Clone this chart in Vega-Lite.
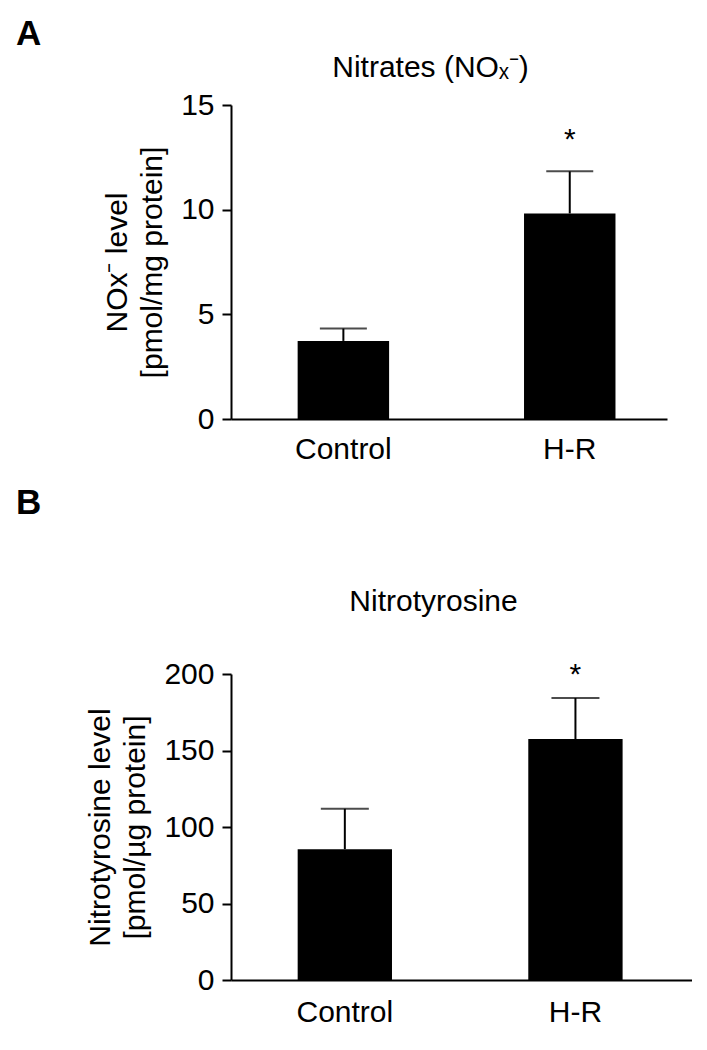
{
  "$schema": "https://vega.github.io/schema/vega-lite/v6.json",
  "padding": {"left": 16, "top": 17, "right": 0, "bottom": 0},
  "background": "white",
  "spacing": 22,
  "config": {
    "font": "Liberation Sans",
    "view": {"stroke": null},
    "axis": {
      "labelFont": "Liberation Sans",
      "titleFont": "Liberation Sans",
      "labelFontSize": 30,
      "titleFontSize": 30,
      "titleFontWeight": "normal",
      "labelColor": "black",
      "titleColor": "black",
      "domainColor": "black",
      "tickColor": "black",
      "domainWidth": 2,
      "tickWidth": 2,
      "grid": false
    },
    "title": {"font": "Liberation Sans", "color": "black"}
  },
  "vconcat": [
    {
      "width": 436,
      "height": 314,
      "title": {"text": "A", "anchor": "start", "frame": "group", "dx": -215, "fontSize": 35, "fontWeight": "bold", "offset": 0},
      "data": {"values": [
        {"group": "Control", "mean": 3.73, "upper": 4.32, "star": ""},
        {"group": "H-R", "mean": 9.82, "upper": 11.83, "star": "*"}
      ]},
      "resolve": {"axis": {"x": "independent"}},
      "layer": [
        {
          "mark": {"type": "bar", "color": "black"},
          "encoding": {
            "x": {"field": "group", "type": "nominal", "sort": null,
                  "scale": {"paddingInner": 0.596, "paddingOuter": 0.261, "align": 0.564},
                  "axis": {"title": null, "labelAngle": 0, "ticks": false, "tickSize": 0, "labelPadding": 15}},
            "y": {"field": "mean", "type": "quantitative", "scale": {"domain": [0, 15], "nice": false},
                  "axis": {"values": [0, 5, 10, 15], "tickSize": 9, "labelPadding": 8,
                           "title": ["NOx⁻ level", "[pmol/mg protein]"], "titleLineHeight": 35, "titlePadding": 13}}
          }
        },
        {
          "mark": {"type": "rule", "color": "black", "strokeWidth": 2},
          "encoding": {
            "x": {"field": "group", "type": "nominal", "sort": null,
                  "axis": {"orient": "top", "domain": false, "ticks": false, "labels": false,
                           "title": "Nitrates (NOₓ⁻)", "titlePadding": 23, "titleX": 199}},
            "y": {"field": "mean", "type": "quantitative", "scale": {"domain": [0, 15], "nice": false}},
            "y2": {"field": "upper"}
          }
        },
        {
          "mark": {"type": "tick", "color": "black", "size": 47, "thickness": 2},
          "encoding": {
            "x": {"field": "group", "type": "nominal", "sort": null, "axis": null},
            "y": {"field": "upper", "type": "quantitative", "scale": {"domain": [0, 15], "nice": false}}
          }
        },
        {
          "mark": {"type": "text", "fontSize": 30, "dy": -22, "baseline": "alphabetic", "color": "black"},
          "encoding": {
            "x": {"field": "group", "type": "nominal", "sort": null, "axis": null},
            "y": {"field": "upper", "type": "quantitative", "scale": {"domain": [0, 15], "nice": false}},
            "text": {"field": "star"}
          }
        }
      ]
    },
    {
      "width": 461,
      "height": 306,
      "title": {"text": "B", "anchor": "start", "frame": "group", "dx": -215, "fontSize": 35, "fontWeight": "bold", "offset": 65},
      "data": {"values": [
        {"group": "Control", "mean": 85.5, "upper": 111.9, "star": ""},
        {"group": "H-R", "mean": 157.5, "upper": 184.3, "star": "*"}
      ]},
      "resolve": {"axis": {"x": "independent"}},
      "layer": [
        {
          "mark": {"type": "bar", "color": "black"},
          "encoding": {
            "x": {"field": "group", "type": "nominal", "sort": null,
                  "scale": {"paddingInner": 0.591, "paddingOuter": 0.295, "align": 0.49},
                  "axis": {"title": null, "labelAngle": 0, "ticks": false, "tickSize": 0, "labelPadding": 17}},
            "y": {"field": "mean", "type": "quantitative", "scale": {"domain": [0, 200], "nice": false},
                  "axis": {"values": [0, 50, 100, 150, 200], "tickSize": 9, "labelPadding": 8,
                           "title": ["Nitrotyrosine level", "[pmol/µg protein]"], "titleLineHeight": 35, "titlePadding": 13}}
          }
        },
        {
          "mark": {"type": "rule", "color": "black", "strokeWidth": 2},
          "encoding": {
            "x": {"field": "group", "type": "nominal", "sort": null,
                  "axis": {"orient": "top", "domain": false, "ticks": false, "labels": false,
                           "title": "Nitrotyrosine", "titlePadding": 58, "titleX": 202}},
            "y": {"field": "mean", "type": "quantitative", "scale": {"domain": [0, 200], "nice": false}},
            "y2": {"field": "upper"}
          }
        },
        {
          "mark": {"type": "tick", "color": "black", "size": 48, "thickness": 2},
          "encoding": {
            "x": {"field": "group", "type": "nominal", "sort": null, "axis": null},
            "y": {"field": "upper", "type": "quantitative", "scale": {"domain": [0, 200], "nice": false}}
          }
        },
        {
          "mark": {"type": "text", "fontSize": 30, "dy": -14, "baseline": "alphabetic", "color": "black"},
          "encoding": {
            "x": {"field": "group", "type": "nominal", "sort": null, "axis": null},
            "y": {"field": "upper", "type": "quantitative", "scale": {"domain": [0, 200], "nice": false}},
            "text": {"field": "star"}
          }
        }
      ]
    }
  ]
}
